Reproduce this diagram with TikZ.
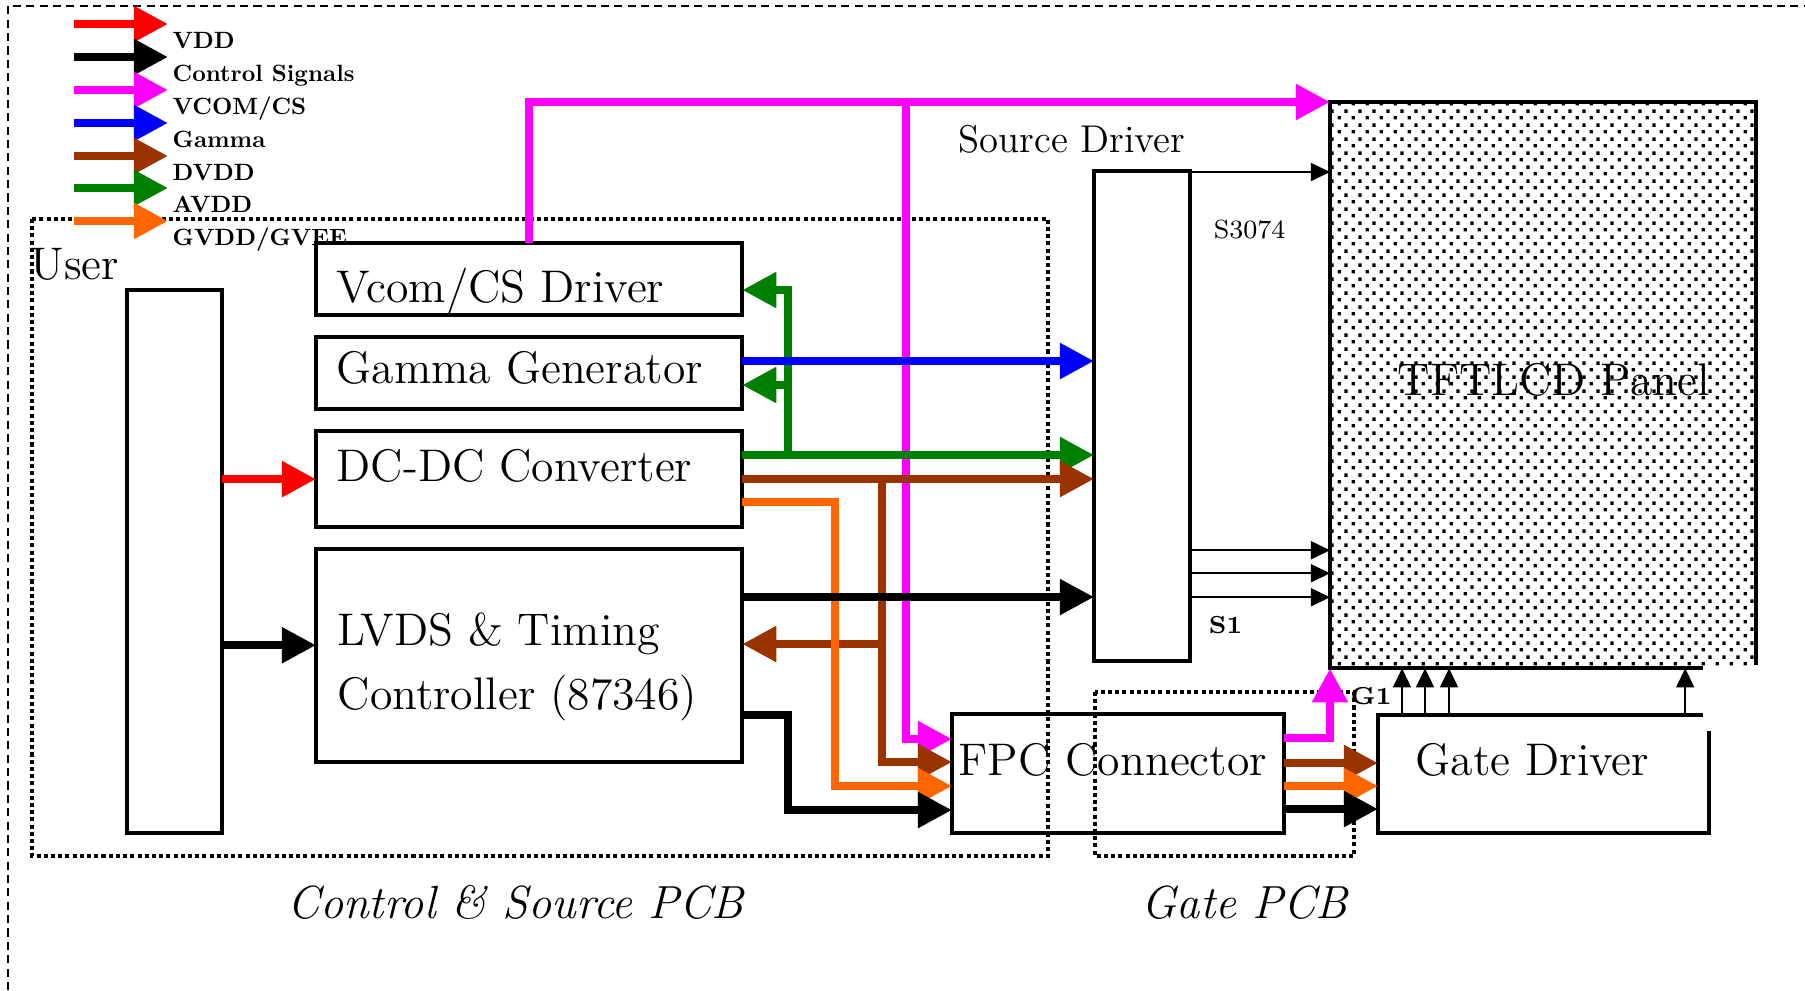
\documentclass[tikz,border=0pt]{standalone}
\usepackage{fontspec}
\newfontface\keyface{lmroman10-bold.otf}
\usepackage{tikz}
\usetikzlibrary{arrows.meta,calc,patterns}
\definecolor{LCDVdd}{HTML}{FF0000}
\definecolor{LCDCtrl}{HTML}{000000}
\definecolor{LCDVcom}{HTML}{FF00FF}
\definecolor{LCDGamma}{HTML}{0000FF}
\definecolor{LCDDvdd}{HTML}{993300}
\definecolor{LCDAvdd}{HTML}{008000}
\definecolor{LCDGvdd}{HTML}{FF6600}
\pgfdeclarepatternformonly{paneldots}{\pgfpointorigin}{\pgfpoint{4pt}{4pt}}{\pgfpoint{4pt}{4pt}}{%
  \pgfpathrectangle{\pgfpoint{0.5pt}{0.5pt}}{\pgfpoint{1pt}{1pt}}%
  \pgfpathrectangle{\pgfpoint{2.5pt}{2.5pt}}{\pgfpoint{1pt}{1pt}}%
  \pgfusepath{fill}}
\tikzset{
  lcdbox/.style={draw=black,line width=1.15pt,inner sep=0pt,outer sep=0pt,anchor=north west},
  lcdline/.style={draw=black,line width=1.15pt},
  boxlabel/.style={anchor=base west,inner sep=0pt,font=\fontsize{13}{15}\selectfont},
  pcblabel/.style={anchor=base west,inner sep=0pt,font=\fontsize{13.2}{15}\selectfont\itshape},
  keylabel/.style={anchor=base west,inner sep=0pt,font=\keyface\fontsize{6.7}{8}\selectfont},
  pinlabel/.style={anchor=base west,inner sep=0pt,font=\fontsize{7}{8}\selectfont\bfseries},
  bus/.style={line width=2.3pt},
  busarrow/.style={bus,-{Triangle[length=0.34cm,width=0.34cm]}},
  pinarrow/.style={line width=0.45pt,-{Triangle[length=0.19cm,width=0.18cm]}},
  pcbframe/.style={line width=1.15pt,dash pattern=on 1.15pt off 0.9pt},
  outerframe/.style={line width=0.55pt,dash pattern=on 2.3pt off 1.5pt},
}

\begin{document}
\begin{tikzpicture}[x=0.01cm,y=-0.01cm]
    \useasboundingbox (0,0) rectangle (1805,990);
    % frames
    \draw[outerframe] (8,990) -- (8,6) -- (1805,6);
    \draw[pcbframe] (32,219) rectangle (1048,856);
    \draw[pcbframe] (1095,692) rectangle (1354,856);
    \node[pcblabel] (ctrlpcb) at (287,918) {Control \& Source PCB};
    \node[pcblabel] (gatepcb) at (1141,918) {Gate PCB};

    % legend
    \coordinate (keyvdd) at (74,24);
    \coordinate (keyctrl) at (74,57);
    \coordinate (keyvcom) at (74,90);
    \coordinate (keygamma) at (74,123);
    \coordinate (keydvdd) at (74,156);
    \coordinate (keyavdd) at (74,188);
    \coordinate (keygvdd) at (74,221);
    \draw[busarrow,LCDVdd] (keyvdd) -- ++(94,0);
    \draw[busarrow,LCDCtrl] (keyctrl) -- ++(94,0);
    \draw[busarrow,LCDVcom] (keyvcom) -- ++(94,0);
    \draw[busarrow,LCDGamma] (keygamma) -- ++(94,0);
    \draw[busarrow,LCDDvdd] (keydvdd) -- ++(94,0);
    \draw[busarrow,LCDAvdd] (keyavdd) -- ++(94,0);
    \draw[busarrow,LCDGvdd] (keygvdd) -- ++(94,0);
    \node[keylabel] (keyvddtext) at ($(keyvdd)+(98,24)$) {VDD};
    \node[keylabel] (keyctrltext) at ($(keyctrl)+(98,24)$) {Control Signals};
    \node[keylabel] (keyvcomtext) at ($(keyvcom)+(98,24)$) {VCOM/CS};
    \node[keylabel] (keygammatext) at ($(keygamma)+(98,24)$) {Gamma};
    \node[keylabel] (keydvddtext) at ($(keydvdd)+(98,24)$) {DVDD};
    \node[keylabel] (keyavddtext) at ($(keyavdd)+(98,24)$) {AVDD};
    \node[keylabel] (keygvddtext) at ($(keygvdd)+(98,24)$) {GVDD/GVEE};

    % blocks
    \node[lcdbox,minimum width=0.95cm,minimum height=5.43cm] (user) at (127,290) {};
    \node[lcdbox,minimum width=4.26cm,minimum height=0.72cm] (vcom) at (316,243) {};
    \node[lcdbox,minimum width=4.26cm,minimum height=0.72cm] (gamma) at (316,337) {};
    \node[lcdbox,minimum width=4.26cm,minimum height=0.96cm] (dcdc) at (316,431) {};
    \node[lcdbox,minimum width=4.26cm,minimum height=2.13cm] (tcon) at (316,549) {};
    \node[lcdbox,minimum width=0.96cm,minimum height=4.90cm] (srcdrv) at (1094,171) {};
    \node[lcdbox,draw=none,pattern=paneldots,minimum width=4.26cm,minimum height=5.66cm] (panel) at (1330,102) {};
    \node[lcdbox,minimum width=3.32cm,minimum height=1.19cm] (fpc) at (952,714) {};
    \node[lcdbox,draw=none,minimum width=3.31cm,minimum height=1.18cm] (gatedrv) at (1378,715) {};
    \draw[lcdline] ([xshift=-0.53cm]panel.south east) -- (panel.south west) -- (panel.north west)
      -- (panel.north east) -- ([yshift=0.03cm]panel.south east);
    \draw[lcdline] ([xshift=-0.06cm]gatedrv.north east) -- (gatedrv.north west) -- (gatedrv.south west)
      -- (gatedrv.south east) -- ([yshift=-0.16cm]gatedrv.north east);

    % block texts
    \node[boxlabel] (usertext) at ($(user.north west)+(-97,-11)$) {User};
    \node[boxlabel] (vcomtext) at ($(vcom.north west)+(20,59)$) {Vcom/CS Driver};
    \node[boxlabel] (gammatext) at ($(gamma.north west)+(20,46)$) {Gamma Generator};
    \node[boxlabel] (dcdctext) at ($(dcdc.north west)+(20,50)$) {DC-DC Converter};
    \node[boxlabel] (tcontext) at ($(tcon.north west)+(21,96)$) {LVDS \& Timing};
    \node[boxlabel] (tcontexttwo) at ($(tcon.north west)+(21,160)$) {Controller (87346)};
    \node[boxlabel,font=\fontsize{11}{13}\selectfont] (srctext) at ($(srcdrv.north west)+(-136,-19)$) {Source Driver};
    \node[boxlabel] (paneltext) at ($(panel.north west)+(67,293)$) {TFTLCD Panel};
    \node[boxlabel] (fpctext) at ($(fpc.north west)+(6,61)$) {FPC Connector};
    \node[boxlabel] (gatetext) at ($(gatedrv.north west)+(37,60)$) {Gate Driver};
    \node[pinlabel,font=\fontsize{7.5}{9}\selectfont] (slast) at ($(srcdrv.north east)+(23,67)$) {S3074};
    \node[pinlabel] (sfirst) at ($(srcdrv.north east)+(18,462)$) {S1};
    \node[pinlabel] (gfirst) at ($(panel.south west)+(20,36)$) {G1};

    % tap points
    \coordinate (vddout) at ([yshift=-1.89cm]user.north east);
    \coordinate (ctrlout) at ([yshift=-3.55cm]user.north east);
    \coordinate (vcomin) at ([yshift=-0.47cm]vcom.north east);
    \coordinate (gammaout) at ([yshift=-0.24cm]gamma.north east);
    \coordinate (gammain) at ([yshift=-0.48cm]gamma.north east);
    \coordinate (avddout) at ([yshift=-0.24cm]dcdc.north east);
    \coordinate (dvddout) at ([yshift=-0.48cm]dcdc.north east);
    \coordinate (gvddout) at ([yshift=-0.71cm]dcdc.north east);
    \coordinate (avddtap) at ([xshift=0.46cm]avddout);
    \coordinate (dvddtap) at ([xshift=1.40cm]dvddout);
    \coordinate (gvddtap) at ([xshift=0.93cm]gvddout);
    \coordinate (tconsrc) at ([yshift=-0.48cm]tcon.north east);
    \coordinate (tcondvdd) at ([yshift=-0.95cm]tcon.north east);
    \coordinate (tconfpc) at ([yshift=-1.66cm]tcon.north east);
    \coordinate (ctrltap) at ([xshift=0.46cm]tconfpc);
    \coordinate (vcomtap) at ([xshift=-4.24cm]panel.north west);
    \coordinate (fpcvcom) at ([yshift=-0.25cm]fpc.north west);
    \coordinate (fpcdvdd) at ([yshift=-0.48cm]fpc.north west);
    \coordinate (fpcgvdd) at ([yshift=-0.72cm]fpc.north west);
    \coordinate (fpcctrl) at ([yshift=-0.96cm]fpc.north west);
    \coordinate (gatevcom) at ([yshift=-0.24cm]fpc.north east);
    \coordinate (gatedvdd) at ([yshift=-0.49cm]fpc.north east);
    \coordinate (gategvdd) at ([yshift=-0.72cm]fpc.north east);
    \coordinate (gatectrl) at ([yshift=-0.95cm]fpc.north east);

    % VCOM/CS
    \draw[busarrow,LCDVcom] (vcom.north) |- (panel.north west);
    \draw[busarrow,LCDVcom] (vcomtap) |- (fpcvcom);
    \draw[busarrow,LCDVcom] (gatevcom) -| (panel.south west);
    % AVDD
    \draw[busarrow,LCDAvdd] (avddout) -- (avddout -| srcdrv.west);
    \draw[busarrow,LCDAvdd] (avddtap) |- (vcomin);
    \draw[busarrow,LCDAvdd] (avddtap |- gammain) -- (gammain);
    % Gamma
    \draw[busarrow,LCDGamma] (gammaout) -- (gammaout -| srcdrv.west);
    % DVDD
    \draw[busarrow,LCDDvdd] (dvddout) -- (dvddout -| srcdrv.west);
    \draw[busarrow,LCDDvdd] (dvddtap) |- (fpcdvdd);
    \draw[busarrow,LCDDvdd] (dvddtap |- tcondvdd) -- (tcondvdd);
    % GVDD/GVEE
    \draw[busarrow,LCDGvdd] (gvddout) -- (gvddtap) |- (fpcgvdd);
    % VDD and control
    \draw[busarrow,LCDVdd] (vddout) -- (vddout -| dcdc.west);
    \draw[busarrow,LCDCtrl] (ctrlout) -- (ctrlout -| tcon.west);
    \draw[busarrow,LCDCtrl] (tconsrc) -- (tconsrc -| srcdrv.west);
    \draw[busarrow,LCDCtrl] (tconfpc) -- (ctrltap) |- (fpcctrl);
    % FPC to gate driver
    \draw[busarrow,LCDDvdd] (gatedvdd) -- (gatedvdd -| gatedrv.west);
    \draw[busarrow,LCDGvdd] (gategvdd) -- (gategvdd -| gatedrv.west);
    \draw[busarrow,LCDCtrl] (gatectrl) -- (gatectrl -| gatedrv.west);

    % source outputs
    \coordinate (srcout) at ([yshift=-0.01cm]srcdrv.north east);
    \coordinate (srcoutb) at ([yshift=-3.79cm]srcdrv.north east);
    \coordinate (srcoutc) at ([yshift=-4.02cm]srcdrv.north east);
    \coordinate (srcoutd) at ([yshift=-4.26cm]srcdrv.north east);
    \draw[pinarrow] (srcout) -- (srcout -| panel.west);
    \draw[pinarrow] (srcoutb) -- (srcoutb -| panel.west);
    \draw[pinarrow] (srcoutc) -- (srcoutc -| panel.west);
    \draw[pinarrow] (srcoutd) -- (srcoutd -| panel.west);
    % gate outputs
    \coordinate (gateout) at ([xshift=0.24cm]gatedrv.north west);
    \coordinate (gateoutb) at ([xshift=0.47cm]gatedrv.north west);
    \coordinate (gateoutc) at ([xshift=0.71cm]gatedrv.north west);
    \coordinate (gateoutd) at ([xshift=3.07cm]gatedrv.north west);
    \draw[pinarrow] (gateout) -- (gateout |- panel.south);
    \draw[pinarrow] (gateoutb) -- (gateoutb |- panel.south);
    \draw[pinarrow] (gateoutc) -- (gateoutc |- panel.south);
    \draw[pinarrow] (gateoutd) -- (gateoutd |- panel.south);
  \end{tikzpicture}
\end{document}
